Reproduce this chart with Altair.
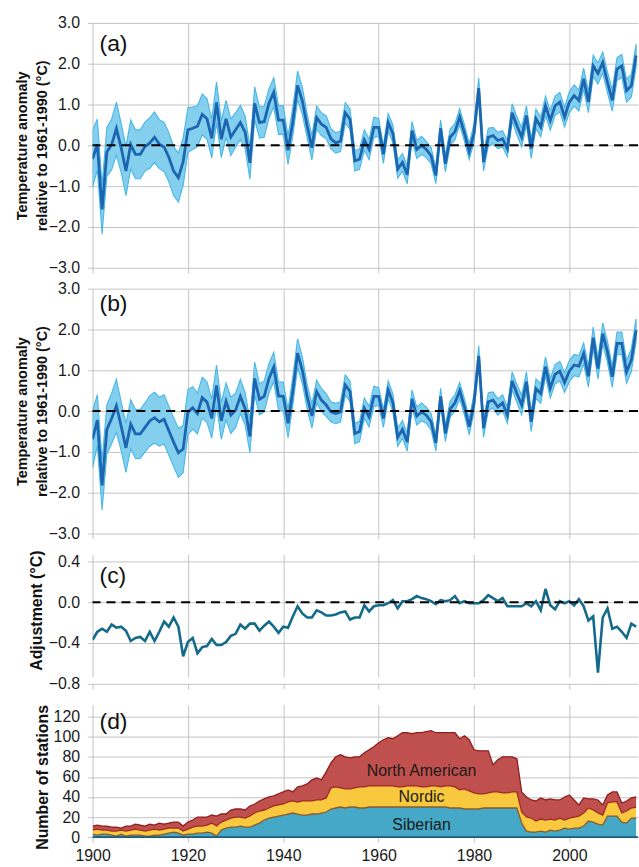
import altair as alt
import pandas as pd

years = list(range(1900, 2015))

# (a) unadjusted temperature anomaly, mean and half-width of uncertainty band
a_mean = [-0.33, 0.02, -1.57, -0.16, 0.02, 0.41, -0.06, -0.63, 0.02, -0.22,
          -0.22, -0.03, 0.06, 0.20, 0.03, -0.04, -0.29, -0.63, -0.79, -0.40,
          0.38, 0.42, 0.47, 0.76, 0.65, 0.17, 1.05, 0.15, 0.65, 0.20,
          0.38, 0.56, 0.32, -0.43, 1.03, 0.56, 0.58, 1.03, 1.30, 0.62,
          0.62, -0.12, 0.58, 1.47, 1.09, 0.48, -0.06, 0.68, 0.52, 0.44,
          0.16, 0.06, 0.10, 0.80, 0.64, -0.38, -0.34, 0.13, -0.10, 0.44,
          0.44, -0.22, 0.56, 0.28, -0.58, -0.42, -0.72, 0.36, -0.10, 0.00,
          -0.10, -0.25, -0.74, 0.42, -0.45, 0.20, 0.33, 0.70, 0.30, -0.15,
          0.30, 1.40, -0.41, 0.20, 0.24, 0.12, 0.16, -0.08, 0.80, 0.48,
          0.20, 0.73, -0.08, 0.65, 0.45, 0.97, 0.61, 0.97, 1.06, 0.69,
          1.06, 1.22, 1.10, 1.63, 1.06, 1.95, 1.76, 2.03, 1.54, 1.10,
          1.87, 1.95, 1.34, 1.46, 2.20]
a_err = [0.70, 0.62, 0.60, 0.60, 0.62, 0.65, 0.60, 0.60, 0.60, 0.60,
         0.60, 0.60, 0.62, 0.62, 0.60, 0.60, 0.60, 0.60, 0.60, 0.58,
         0.55, 0.52, 0.50, 0.50, 0.50, 0.48, 0.50, 0.45, 0.45, 0.45,
         0.42, 0.42, 0.40, 0.40, 0.40, 0.38, 0.38, 0.36, 0.36, 0.35,
         0.35, 0.35, 0.35, 0.35, 0.33, 0.30, 0.30, 0.28, 0.28, 0.28,
         0.25, 0.25, 0.25, 0.25, 0.25, 0.25, 0.25, 0.25, 0.25, 0.25,
         0.22, 0.22, 0.22, 0.22, 0.22, 0.22, 0.22, 0.22, 0.22, 0.22,
         0.20, 0.20, 0.20, 0.20, 0.20, 0.20, 0.20, 0.20, 0.20, 0.20,
         0.22, 0.25, 0.22, 0.22, 0.20, 0.20, 0.20, 0.20, 0.22, 0.22,
         0.24, 0.24, 0.24, 0.24, 0.24, 0.24, 0.24, 0.24, 0.24, 0.24,
         0.26, 0.26, 0.26, 0.26, 0.26, 0.26, 0.26, 0.26, 0.26, 0.26,
         0.28, 0.28, 0.28, 0.28, 0.28]

# (b) adjusted temperature anomaly
b_mean = [-0.69, -0.22, -1.82, -0.45, -0.18, 0.13, -0.37, -0.90, -0.32, -0.56,
          -0.56, -0.40, -0.24, -0.16, -0.26, -0.20, -0.48, -0.76, -1.02, -0.93,
          -0.02, 0.08, -0.06, 0.33, 0.22, -0.18, 0.63, -0.24, 0.24, -0.10,
          0.02, 0.36, 0.06, -0.62, 0.80, 0.29, 0.36, 0.80, 1.08, 0.37,
          0.36, -0.30, 0.49, 1.42, 1.00, 0.36, -0.12, 0.48, 0.27, 0.15,
          -0.02, -0.06, -0.02, 0.64, 0.48, -0.55, -0.50, 0.07, -0.14, 0.36,
          0.36, -0.18, 0.52, 0.20, -0.64, -0.45, -0.76, 0.30, -0.12, -0.02,
          -0.10, -0.26, -0.78, 0.36, -0.55, 0.05, 0.20, 0.50, 0.10, -0.38,
          0.20, 1.35, -0.42, 0.23, 0.27, 0.10, 0.20, -0.10, 0.74, 0.43,
          0.15, 0.72, -0.26, 0.55, 0.43, 1.09, 0.56, 0.90, 0.98, 0.70,
          0.98, 1.13, 1.10, 1.41, 0.85, 1.80, 1.04, 1.90, 1.45, 0.84,
          1.66, 1.66, 0.96, 1.25, 1.98]
b_err = list(a_err)

# (c) adjustment
adj = [-0.37, -0.29, -0.26, -0.29, -0.22, -0.25, -0.24, -0.28, -0.38, -0.35,
       -0.34, -0.38, -0.29, -0.38, -0.29, -0.19, -0.24, -0.15, -0.24, -0.53,
       -0.39, -0.35, -0.50, -0.44, -0.43, -0.36, -0.42, -0.42, -0.39, -0.33,
       -0.31, -0.22, -0.26, -0.21, -0.21, -0.28, -0.23, -0.19, -0.24, -0.30,
       -0.24, -0.25, -0.14, -0.04, -0.11, -0.15, -0.15, -0.08, -0.10, -0.13,
       -0.13, -0.12, -0.10, -0.09, -0.17, -0.15, -0.15, -0.03, -0.09, -0.04,
       -0.03, -0.03, -0.01, 0.02, -0.06, 0.01, 0.01, 0.03, 0.06, 0.04,
       0.03, 0.01, -0.02, 0.02, 0.01, 0.02, 0.06, -0.01, 0.01, -0.01,
       -0.01, -0.01, 0.02, 0.07, 0.04, 0.01, 0.04, -0.04, -0.04, -0.04,
       -0.04, -0.01, -0.04, 0.01, -0.08, 0.13, -0.03, -0.07, 0.01, -0.01,
       0.01, -0.03, 0.03, -0.04, -0.18, -0.14, -0.69, -0.15, -0.06, -0.26,
       -0.24, -0.29, -0.35, -0.21, -0.24]

# (d) number of stations per region
siberian = [3, 2, 3, 3, 2, 1, 3, 1, 2, 2,
            2, 1, 1, 2, 2, 3, 4, 5, 4, 2,
            3, 3, 4, 4, 5, 4, 1, 7, 9, 10,
            10, 11, 10, 10, 12, 14, 17, 19, 20, 21,
            22, 23, 24, 23, 22, 22, 23, 23, 24, 25,
            28, 29, 30, 29, 30, 30, 29, 29, 30, 30,
            30, 30, 30, 30, 30, 30, 30, 30, 30, 30,
            30, 30, 30, 30, 30, 29, 29, 29, 28, 28,
            28, 28, 29, 29, 29, 29, 29, 29, 29, 29,
            14, 6, 5, 5, 6, 5, 7, 6, 7, 9,
            8, 9, 9, 11, 16, 15, 13, 12, 21, 21,
            21, 15, 14, 19, 19]
nordic = [4, 6, 4, 4, 4, 5, 4, 5, 5, 6,
          5, 5, 6, 6, 5, 5, 5, 4, 5, 4,
          5, 7, 7, 7, 7, 10, 10, 8, 8, 9,
          10, 9, 9, 11, 12, 12, 10, 10, 11, 11,
          11, 12, 12, 12, 14, 14, 13, 14, 13, 14,
          21, 21, 19, 19, 18, 19, 21, 21, 21, 21,
          21, 21, 21, 21, 20, 20, 21, 21, 21, 20,
          20, 21, 21, 20, 21, 22, 21, 18, 20, 18,
          16, 15, 14, 15, 16, 16, 15, 15, 16, 16,
          11, 14, 14, 11, 12, 12, 11, 11, 12, 8,
          11, 11, 12, 13, 13, 12, 11, 10, 13, 14,
          14, 9, 12, 10, 11]
north_american = [4, 4, 4, 4, 4, 4, 2, 5, 4, 5,
                  5, 5, 6, 4, 7, 5, 5, 6, 6, 5,
                  7, 7, 9, 9, 8, 8, 10, 8, 6, 8,
                  8, 8, 8, 10, 9, 10, 11, 11, 10, 11,
                  12, 12, 9, 15, 15, 17, 21, 22, 20, 26,
                  25, 30, 33, 32, 31, 31, 30, 34, 36, 39,
                  43, 46, 48, 47, 51, 54, 53, 52, 53, 54,
                  55, 55, 53, 54, 53, 53, 54, 51, 53, 51,
                  43, 43, 43, 42, 27, 32, 36, 36, 35, 33,
                  20, 20, 18, 20, 21, 20, 20, 20, 18, 23,
                  23, 17, 11, 15, 9, 11, 13, 10, 8, 10,
                  10, 10, 10, 10, 10]

regions = ["Siberian", "Nordic", "North American"]
region_fill = ["#44a8c6", "#f8c93e", "#c0504d"]
region_line = ["#8c5a28", "#9e2a26", "#8e1f1f"]
region_labels = ["Siberian", "Nordic", "North American"]
label_x = [1969, 1969, 1969]
label_y = [12, 40, 66]

panel_letters = ["(a)", "(b)", "(c)", "(d)"]
x_ticks = [1900, 1920, 1940, 1960, 1980, 2000]

for arr in (a_mean, a_err, b_mean, b_err, adj, siberian, nordic, north_american):
    assert len(arr) == len(years), len(arr)

FONT = "Liberation Sans"
W = 548
X_DOMAIN = [1900, 2014.4]
GRID = "#c4c4c4"
BAND_FILL = "#7fcdee"
BAND_EDGE = "#3fb4e6"
MEAN_LINE = "#1c65b0"
ADJ_LINE = "#136a8a"


def x_enc(labels):
    return alt.X("year:Q",
                 scale=alt.Scale(domain=X_DOMAIN, nice=False, zero=False),
                 axis=alt.Axis(values=x_ticks, format="d", labels=labels, title=None,
                               grid=True, ticks=True, tickSize=5, domain=False,
                               labelPadding=6, labelFontSize=16, labelFlush=False,
                               labelOverlap=False))


def letter(txt, ypix):
    return alt.Chart(pd.DataFrame({"t": [txt]})).mark_text(
        align="left", baseline="middle", fontSize=23, font=FONT, color="#111"
    ).encode(x=alt.value(7), y=alt.value(ypix), text="t:N")


def zero_rule(yscale, yaxis):
    return alt.Chart(pd.DataFrame({"z": [0]})).mark_rule(
        color="black", strokeWidth=2, strokeDash=[9, 6]
    ).encode(y=alt.Y("z:Q", scale=yscale, axis=yaxis))


def temp_panel(mean, err, txt, ypix):
    df = pd.DataFrame({"year": years, "mean": mean, "err": err})
    base = alt.Chart(df).transform_calculate(
        lo="datum.mean - datum.err", hi="datum.mean + datum.err")
    ysc = alt.Scale(domain=[-3, 3], nice=False)
    yax = alt.Axis(values=[-3, -2, -1, 0, 1, 2, 3], format=".1f",
                   title=["Temperature anomaly", "relative to 1961-1990 (°C)"],
                   titleFontSize=14.5, titleLineHeight=20, titlePadding=-1,
                   grid=True, ticks=True, tickSize=5, domain=False, labelPadding=8,
                   labelOverlap=False, labelFlush=False)
    band = base.mark_area(color=BAND_FILL, opacity=0.95, stroke=BAND_EDGE,
                          strokeWidth=1.1, clip=True).encode(
        x=x_enc(False), y=alt.Y("lo:Q", scale=ysc, axis=yax), y2="hi:Q")
    line = base.mark_line(color=MEAN_LINE, strokeWidth=2.8, clip=True).encode(
        x=x_enc(False), y=alt.Y("mean:Q", scale=ysc, axis=yax))
    return alt.layer(band, line, zero_rule(ysc, yax), letter(txt, ypix)).properties(width=W, height=246)


pa = temp_panel(a_mean, a_err, panel_letters[0], 21)
pb = temp_panel(b_mean, b_err, panel_letters[1], 15)

c_scale = alt.Scale(domain=[-0.8, 0.4], nice=False, range=[130, 7])
c_axis = alt.Axis(values=[-0.8, -0.4, 0.0, 0.4], format=".1f",
                  title="Adjustment (°C)", titleFontSize=16, titlePadding=4,
                  titleY=56, grid=True, ticks=True, tickSize=5, domain=False,
                  labelPadding=8, labelOverlap=False, labelFlush=False)
df_c = pd.DataFrame({"year": years, "adj": adj})
c_line = alt.Chart(df_c).mark_line(color=ADJ_LINE, strokeWidth=2.6, clip=True).encode(
    x=x_enc(False), y=alt.Y("adj:Q", scale=c_scale, axis=c_axis))
pc = alt.layer(c_line, zero_rule(c_scale, c_axis), letter(panel_letters[2], 22)).properties(width=W, height=130)

n = len(years)
df_d = pd.DataFrame({
    "year": years * 3,
    "region": [regions[0]] * n + [regions[1]] * n + [regions[2]] * n,
    "ord": [0] * n + [1] * n + [2] * n,
    "count": siberian + nordic + north_american,
})
d_scale = alt.Scale(domain=[0, 120], nice=False, range=[133, 12])
d_axis = alt.Axis(values=[0, 20, 40, 60, 80, 100, 120], format="d",
                  title="Number of stations", titleFontSize=16, titlePadding=3,
                  grid=True, ticks=True, tickSize=5, domain=False, labelPadding=8,
                  labelOverlap=False, labelFlush=False, labelSeparation=0)
base_d = alt.Chart(df_d).transform_stack(
    stack="count", groupby=["year"], as_=["c0", "c1"],
    sort=[alt.SortField("ord", order="ascending")])
d_areas = base_d.mark_area(clip=True).encode(
    x=x_enc(True),
    y=alt.Y("c1:Q", scale=d_scale, axis=d_axis),
    y2="c0:Q",
    fill=alt.Fill("region:N", scale=alt.Scale(domain=regions, range=region_fill), legend=None))
d_lines = base_d.mark_line(strokeWidth=1.3, clip=True).encode(
    x=x_enc(True), y=alt.Y("c1:Q", scale=d_scale, axis=d_axis),
    stroke=alt.Stroke("region:N", scale=alt.Scale(domain=regions, range=region_line), legend=None))
d_base = alt.Chart(pd.DataFrame({"z": [0]})).mark_rule(color="#1d5c78", strokeWidth=1.8).encode(
    y=alt.Y("z:Q", scale=d_scale, axis=d_axis))
d_text = alt.Chart(pd.DataFrame({"label": region_labels, "x": label_x, "y": label_y})).mark_text(
    fontSize=16, font=FONT, color="#1a1a1a", align="center", baseline="middle").encode(
    x=alt.X("x:Q", scale=alt.Scale(domain=X_DOMAIN, nice=False, zero=False)),
    y=alt.Y("y:Q", scale=d_scale, axis=d_axis), text="label:N")
pd_ = alt.layer(d_areas, d_lines, d_base, d_text, letter(panel_letters[3], 17)).properties(width=W, height=133)

chart = alt.vconcat(pa, pb, pc, pd_, spacing=21, bounds="flush").properties(
    padding={"left": 14, "top": 13, "right": 0, "bottom": 0},
    background="white",
).configure_view(stroke=None).configure_axis(
    labelFont=FONT, titleFont=FONT, labelFontSize=16, labelColor="#1a1a1a",
    titleColor="#111", titleFontWeight="bold", labelOverlap=False,
    gridColor=GRID, gridWidth=1, tickColor=GRID, tickWidth=1,
)

chart.save("out.html", embed_options={"renderer": "svg", "actions": False})
